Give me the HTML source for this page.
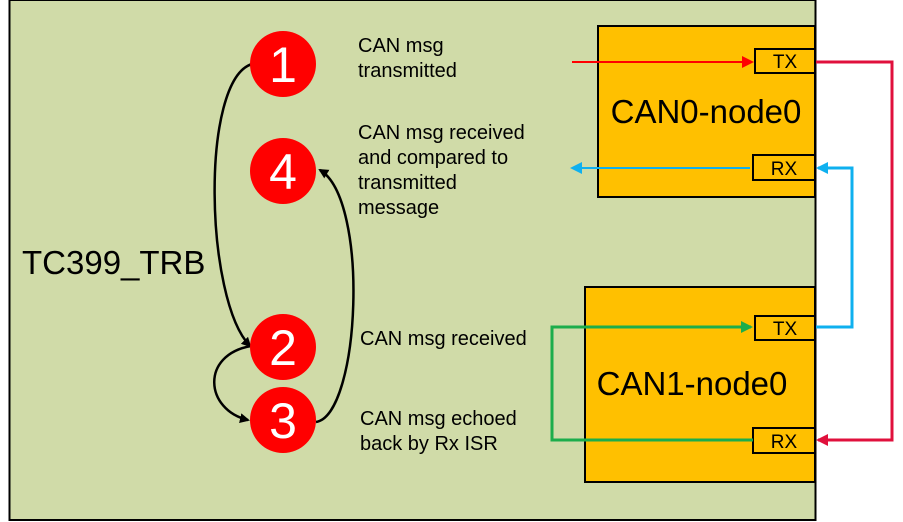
<!DOCTYPE html><html><head><style>body{margin:0;background:#fff}svg{display:block}</style></head><body>
<svg width="903" height="522" xmlns="http://www.w3.org/2000/svg" font-family="Liberation Sans, Arial, sans-serif">
<defs>
<marker id="ak" markerWidth="10" markerHeight="10" refX="8" refY="5" orient="auto" markerUnits="userSpaceOnUse"><path d="M0,0 L10,5 L0,10 z" fill="#000"/></marker>
<marker id="ar" markerWidth="12" markerHeight="12" refX="10" refY="6" orient="auto" markerUnits="userSpaceOnUse"><path d="M0,0 L12,6 L0,12 z" fill="#f00"/></marker>
<marker id="ar2" markerWidth="12" markerHeight="12" refX="10" refY="6" orient="auto" markerUnits="userSpaceOnUse"><path d="M0,0 L12,6 L0,12 z" fill="#e0103c"/></marker>
<marker id="ab" markerWidth="12" markerHeight="12" refX="10" refY="6" orient="auto" markerUnits="userSpaceOnUse"><path d="M0,0 L12,6 L0,12 z" fill="#0fb0ef"/></marker>
<marker id="ag" markerWidth="12" markerHeight="12" refX="10" refY="6" orient="auto" markerUnits="userSpaceOnUse"><path d="M0,0 L12,6 L0,12 z" fill="#1cad4b"/></marker>
</defs>
<rect x="9.5" y="0" width="806" height="520" fill="#d0dba8" stroke="#000" stroke-width="2"/>
<text x="22" y="274" font-size="33">TC399_TRB</text>
<rect x="598" y="26" width="217" height="171" fill="#ffc000" stroke="#000" stroke-width="2"/>
<text x="706" y="123" font-size="33" text-anchor="middle">CAN0-node0</text>
<rect x="755" y="49" width="60" height="24" fill="#ffc000" stroke="#000" stroke-width="2"/>
<text x="785" y="68" font-size="19" text-anchor="middle">TX</text>
<rect x="753" y="155" width="62" height="25" fill="#ffc000" stroke="#000" stroke-width="2"/>
<text x="784" y="175" font-size="19" text-anchor="middle">RX</text>
<rect x="585" y="287" width="230" height="195" fill="#ffc000" stroke="#000" stroke-width="2"/>
<text x="692" y="395" font-size="33" text-anchor="middle">CAN1-node0</text>
<rect x="755" y="316" width="60" height="24" fill="#ffc000" stroke="#000" stroke-width="2"/>
<text x="785" y="335" font-size="19" text-anchor="middle">TX</text>
<rect x="753" y="428" width="62" height="25" fill="#ffc000" stroke="#000" stroke-width="2"/>
<text x="784" y="448" font-size="19" text-anchor="middle">RX</text>
<path d="M572,62 L752,62" stroke="#f00" stroke-width="2" fill="none" marker-end="url(#ar)"/>
<path d="M750,168 L572,168" stroke="#0fb0ef" stroke-width="2" fill="none" marker-end="url(#ab)"/>
<path d="M816,62 L892,62 L892,440 L818,440" stroke="#e0103c" stroke-width="3" fill="none" marker-end="url(#ar2)"/>
<path d="M816,327 L852,327 L852,168 L818,168" stroke="#0fb0ef" stroke-width="3" fill="none" marker-end="url(#ab)"/>
<path d="M753,440 L552,440 L552,327 L751,327" stroke="#1cad4b" stroke-width="3" fill="none" marker-end="url(#ag)"/>
<path d="M252,64 C200,80 205,300 250,346" stroke="#000" stroke-width="2.5" fill="none" marker-end="url(#ak)"/>
<path d="M316,422 C360,415 370,200 320,170" stroke="#000" stroke-width="2.5" fill="none" marker-end="url(#ak)"/>
<path d="M251,346 C200,355 205,410 248,420" stroke="#000" stroke-width="2.5" fill="none" marker-end="url(#ak)"/>
<g font-size="50" fill="#fff" text-anchor="middle">
<circle cx="283" cy="64" r="33" fill="#f00"/><text x="283" y="82">1</text>
<circle cx="283" cy="171" r="33" fill="#f00"/><text x="283" y="189">4</text>
<circle cx="283" cy="347" r="33" fill="#f00"/><text x="283" y="365">2</text>
<circle cx="283" cy="420" r="33" fill="#f00"/><text x="283" y="438">3</text>
</g>
<g font-size="20">
<text x="358" y="52">CAN msg</text><text x="358" y="77">transmitted</text>
<text x="358" y="139">CAN msg received</text><text x="358" y="164">and compared to</text><text x="358" y="189">transmitted</text><text x="358" y="214">message</text>
<text x="360" y="345">CAN msg received</text>
<text x="360" y="425">CAN msg echoed</text><text x="360" y="450">back by Rx ISR</text>
</g>
</svg></body></html>
